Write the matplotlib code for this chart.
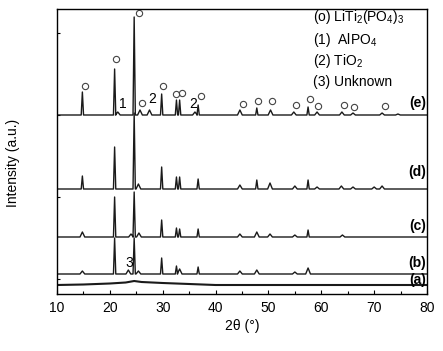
import numpy as np
import matplotlib
matplotlib.use("Agg")
import matplotlib.pyplot as plt
from matplotlib.ticker import MultipleLocator

plt.rcParams['font.family'] = ['Liberation Sans', 'DejaVu Sans']
plt.rcParams['mathtext.fontset'] = 'custom'
plt.rcParams['mathtext.rm'] = 'Liberation Sans'
plt.rcParams['mathtext.it'] = 'Liberation Sans'

# intensidades en unidades arbitrarias
base = {'a': 9, 'b': 20, 'c': 57, 'd': 105, 'e': 179}

e_pos = [14.8, 20.9, 21.5, 24.6, 25.7, 27.5, 29.8, 32.6, 33.2, 36.1, 36.7,
         44.6, 47.8, 50.4, 54.8, 57.5, 59.2, 63.9, 66.0, 71.5, 74.5]
e_hgt = [23, 46, 3, 98, 5, 5, 21, 15, 15, 3, 10,
         5, 7, 5, 3, 8, 3, 3, 2, 2, 1]

d_pos = [14.8, 20.9, 24.6, 25.4, 29.8, 32.6, 33.2, 36.7, 44.6, 47.8, 50.3,
         55.0, 57.5, 59.2, 63.8, 66.0, 70.0, 71.5]
d_hgt = [13, 42, 76, 5, 22, 12, 12, 10, 4, 9, 6,
         3, 9, 2, 3, 2, 2, 3]

c_pos = [14.8, 20.9, 24.0, 24.6, 25.5, 29.8, 32.6, 33.2, 36.7, 44.6, 47.8,
         50.3, 55.0, 57.5, 64.0]
c_hgt = [5, 40, 3, 45, 4, 17, 9, 8, 8, 3, 5,
         3, 2, 7, 2]

b_pos = [14.8, 20.9, 23.5, 24.6, 25.4, 29.8, 32.6, 33.2, 36.7, 44.6, 47.8,
         55.0, 57.5]
b_hgt = [3, 36, 4, 36, 3, 16, 8, 5, 7, 3, 4,
         2, 6]

# muestra (a): amorfa, solo un halo ancho
a_x = [10, 15, 20, 23, 24.6, 26, 30, 35, 40, 80]
a_y = [0, 0.5, 1.5, 2.5, 4, 3, 2, 1, 0, 0]

# marcadores de LiTi2(PO4)3 sobre (e)
o_x = [15.3, 21.1, 25.5, 26.1, 30.1, 32.5, 33.7, 37.3, 45.1, 48.0,
       50.7, 55.2, 57.9, 59.4, 64.3, 66.2, 72.0]
o_y = [208, 235, 281, 191, 208, 200, 201, 198, 190, 193,
       193, 189, 195, 188, 189, 187, 188]

num_lbl = ['1', '2', '2', '3']
num_x = [22.4, 28.0, 35.7, 23.7]
num_y = [190, 195, 190, 31]

legend_lines = ['(o) LiTi$_2$(PO$_4$)$_3$', '(1)  AlPO$_4$', '(2) TiO$_2$', '(3) Unknown']
legend_y = [277, 254, 233, 212]


def pattern(pos, hgt, y0):
    xs, ys = [10.0], [y0]
    for p, h in sorted(zip(pos, hgt)):
        w = 0.22 if h > 6 else 0.45
        xs += [p - w, p, p + w]
        ys += [y0, y0 + h, y0]
    xs.append(80.0)
    ys.append(y0)
    return xs, ys


fig = plt.figure(figsize=(4.43, 3.51), dpi=100)
ax = fig.add_axes([57 / 443, 1 - 294 / 351, 370 / 443, 285 / 351])

for key, pos, hgt in [('e', e_pos, e_hgt), ('d', d_pos, d_hgt), ('c', c_pos, c_hgt),
                      ('b', b_pos, b_hgt)]:
    xs, ys = pattern(pos, hgt, base[key])
    ax.plot(xs, ys, color='#1a1a1a', lw=1.0)
ax.plot(a_x, np.array(a_y) + base['a'], color='#1a1a1a', lw=1.5)

ax.plot(o_x, o_y, 'o', mfc='none', mec='#444444', ms=4.5, mew=0.8)
for t, x, y in zip(num_lbl, num_x, num_y):
    ax.text(x, y, t, fontsize=10, ha='center', va='center')

for t, y in zip(legend_lines, legend_y):
    ax.text(58.4, y, t, fontsize=10, ha='left', va='center')

for key, y in zip(['e', 'd', 'c', 'b', 'a'], [191, 122, 68, 31, 14]):
    ax.text(79.8, y, '(%s)' % key, fontsize=10, fontweight='bold', ha='right', va='center')

ax.set_xlim(10, 80)
ax.set_ylim(0, 285)
ax.xaxis.set_major_locator(MultipleLocator(10))
ax.xaxis.set_minor_locator(MultipleLocator(5))
ax.set_yticks([15, 97, 179, 261])
ax.set_yticklabels([])
ax.tick_params(direction='in', length=3, width=0.8, labelsize=10, pad=5)
ax.tick_params(which='minor', direction='in', length=2, width=0.8)
ax.tick_params(axis='y', length=2)
for s in ax.spines.values():
    s.set_linewidth(1.0)

ax.set_xlabel('2θ (°)', fontsize=10, labelpad=3)
fig.text(13 / 443, 1 - 163 / 351, 'Intensity (a.u.)', fontsize=10, rotation=90,
         ha='center', va='center')

fig.savefig('out.png', dpi=100)
